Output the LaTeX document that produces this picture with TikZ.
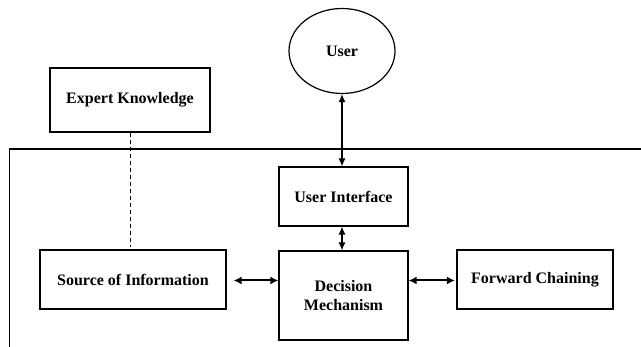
\documentclass[tikz,border=0pt]{standalone}
\usepackage{fontspec}
\setmainfont{Liberation Serif}
\usetikzlibrary{shapes.geometric,arrows.meta,calc}
\begin{document}
\begin{tikzpicture}[x=1pt,y=1pt,
  every node/.style={font=\fontsize{16}{19}\selectfont\bfseries, align=center, inner sep=0pt},
  box/.style={draw, line width=1.2pt, rectangle},
  vlink/.style={line width=1.2pt, {Latex[length=8pt,width=7pt]}-{Latex[length=8pt,width=7pt]}},
  hlink/.style={line width=2pt, {Latex[length=8pt,width=8pt]}-{Latex[length=8pt,width=8pt]}},
  hint/.style={line width=0.8pt, dash pattern=on 4pt off 3pt}]
  \useasboundingbox (0,0) rectangle (641,-347);
  \clip (0,0) rectangle (641,-347);

  % system boundary, running off the right and bottom edges
  \draw[line width=1.2pt] (9.5,-360) -- (9.5,-149) -- (660,-149);

  \node[draw, ellipse, line width=1.2pt, minimum width=106pt, minimum height=85pt] (user) at (342,-51) {User};
  \node[box, minimum width=160pt, minimum height=64pt] (expert) at (130,-100) {Expert Knowledge};
  \node[box, minimum width=129pt, minimum height=59pt] (ui) at (343.5,-196.5) {User Interface};
  \node[box, minimum width=186pt, minimum height=59pt] (src) at (133,-279.5) {Source of Information};
  \node[box, minimum width=129pt, minimum height=89pt] (dec) at (343.5,-295.5) {Decision\\Mechanism};
  \node[box, minimum width=156pt, minimum height=59pt] (fwd) at (535,-279.5) {Forward Chaining};

  \coordinate (srcend) at ($(src.east)+(7,-1)$);
  \coordinate (fwdend) at ($(fwd.west)+(-1.5,-1)$);

  \draw[vlink] (user.south) -- (user.south |- ui.north);
  \draw[vlink] (ui.south -| user.south) -- (dec.north -| user.south);
  \draw[hlink] (srcend) -- (srcend -| dec.west);
  \draw[hlink] (fwdend -| dec.east) -- (fwdend);
  \draw[hint] (expert.south) -- ($(expert.south |- src.north)+(0,2)$);
\end{tikzpicture}
\end{document}
